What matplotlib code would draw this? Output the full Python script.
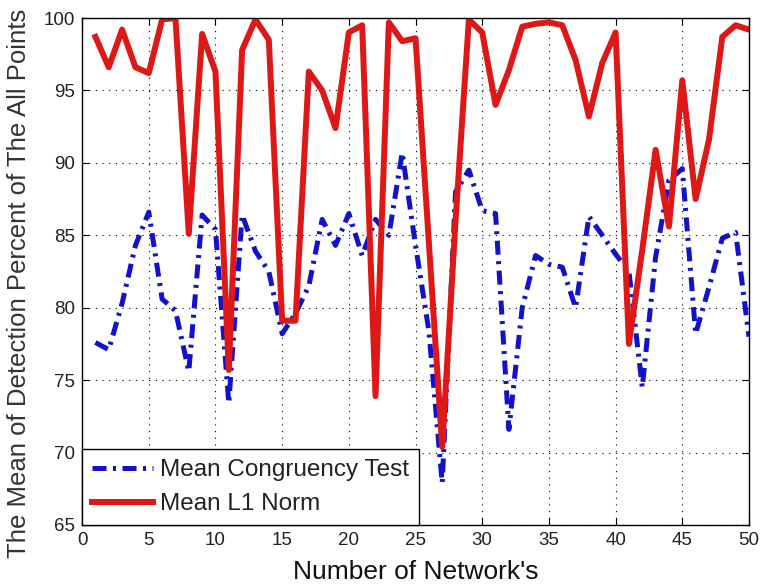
import matplotlib
matplotlib.use("Agg")
import matplotlib.pyplot as plt
import numpy as np

plt.rcParams["font.family"] = ["Liberation Sans", "DejaVu Sans"]

networks = np.arange(1, 51)

congruency = [
    77.6, 77.1, 80.3, 84.3, 86.6, 80.6, 79.8, 75.6, 86.4, 85.4,
    73.4, 86.4, 83.9, 82.5, 78.2, 79.6, 81.5, 86.1, 84.3, 86.5,
    83.6, 86.1, 85.0, 90.7, 84.3, 78.4, 67.9, 88.0, 89.5, 86.7,
    86.5, 71.6, 80.0, 83.6, 83.0, 82.8, 80.0, 86.3, 85.0, 83.7,
    82.5, 74.5, 83.5, 88.8, 89.6, 78.2, 81.4, 84.8, 85.2, 78.0,
]

l1_norm = [
    98.7, 96.6, 99.2, 96.6, 96.2, 99.9, 100.0, 85.1, 98.9, 96.3,
    75.7, 97.8, 99.9, 98.5, 79.1, 79.1, 96.3, 95.0, 92.4, 99.0,
    99.5, 73.9, 99.7, 98.4, 98.6, 84.5, 70.4, 86.0, 99.9, 99.0,
    94.0, 96.4, 99.4, 99.6, 99.7, 99.5, 97.1, 93.2, 96.9, 99.0,
    77.5, 84.0, 90.9, 85.6, 95.7, 87.5, 91.6, 98.7, 99.5, 99.2,
]

fig = plt.figure(figsize=(7.6, 5.85), dpi=100)
ax = fig.add_axes([0.108, 0.1026, 0.8775, 0.8666])

ax.plot(networks, congruency, color="#1212cc", linewidth=3.6,
        linestyle=(0, (2.8, 1.3, 0.6, 1.3)), label="Mean Congruency Test")
ax.plot(networks, l1_norm, color="#de1717", linewidth=4.3,
        label="Mean L1 Norm")

ax.set_xlim(0, 50)
ax.set_ylim(65, 100)
ax.set_xticks(np.arange(0, 51, 5))
ax.set_yticks(np.arange(65, 101, 5))
ax.tick_params(direction="in", top=True, right=True, labelsize=13.5,
               length=5, pad=5, labelcolor="#222222")
ax.grid(True, color="black", linestyle=(0, (1, 5)), linewidth=0.8)

for s in ax.spines.values():
    s.set_linewidth(1.0)

ax.set_xlabel("Number of Network's", fontsize=19, labelpad=8, color="#111111")
ax.set_ylabel("The Mean of Detection Percent of The All Points", fontsize=18.5,
              color="#333333")
ax.yaxis.set_label_coords(-0.0765, 0.477)

# legend box sits in the lower left corner, MATLAB style
leg = ax.legend(loc="lower left", fontsize=17.5, fancybox=False, framealpha=1,
                edgecolor="black", borderaxespad=0, handlelength=2.5,
                handletextpad=0.3, borderpad=0.4, labelspacing=0.5)
leg.get_frame().set_linewidth(1.0)
for t in leg.get_texts():
    t.set_color("#222222")

plt.savefig("out.png", dpi=100)
